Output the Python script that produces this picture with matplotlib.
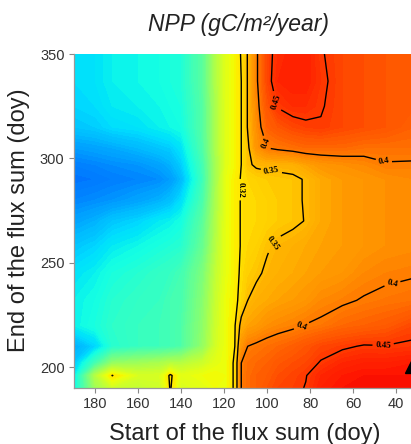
import numpy as np
import matplotlib
matplotlib.use("Agg")
import matplotlib.pyplot as plt

# start of the flux sum (doy), listed left to right as drawn (axis runs backwards)
start_doy = [190, 180, 172, 160, 150, 145, 140, 130, 124, 119, 115, 112, 109,
             105, 100, 95, 88, 82, 75, 65, 55, 45, 31]
# end of the flux sum (doy), bottom to top
end_doy = [190, 196, 202, 210, 220, 232, 245, 258, 270, 280, 290, 297, 305, 315, 325, 337, 350]

# NPP (gC/m2/year), one row per end doy
npp = [
    [.100, .230, .270, .260, .270, .323, .280, .290, .300, .300, .325, .400, .412, .420, .430, .440, .445, .451, .470, .480, .485, .485, .485],
    [.090, .250, .321, .280, .280, .326, .290, .300, .305, .300, .325, .400, .412, .420, .425, .435, .442, .449, .465, .475, .480, .480, .480],
    [.070, .150, .220, .230, .240, .250, .250, .270, .290, .300, .325, .400, .410, .415, .420, .428, .435, .440, .452, .465, .470, .470, .475],
    [.050, .080, .125, .140, .145, .150, .160, .220, .275, .300, .320, .380, .400, .405, .410, .415, .422, .430, .440, .446, .452, .451, .455],
    [.100, .115, .130, .140, .145, .150, .160, .215, .270, .300, .318, .360, .370, .375, .385, .390, .395, .401, .405, .415, .420, .425, .440],
    [.100, .110, .125, .135, .140, .150, .155, .210, .265, .300, .312, .330, .350, .360, .365, .370, .375, .380, .390, .396, .402, .406, .410],
    [.090, .100, .115, .125, .135, .140, .150, .200, .260, .295, .310, .325, .338, .345, .355, .360, .365, .370, .375, .380, .390, .395, .398],
    [.070, .080, .095, .105, .115, .120, .125, .180, .250, .295, .310, .322, .330, .335, .347, .355, .360, .365, .370, .375, .380, .385, .388],
    [.045, .055, .070, .080, .095, .100, .110, .170, .245, .295, .310, .322, .330, .330, .335, .340, .345, .351, .365, .375, .380, .385, .390],
    [.025, .030, .035, .045, .055, .065, .085, .155, .240, .295, .310, .322, .330, .330, .335, .340, .345, .352, .365, .375, .380, .385, .390],
    [.012, .015, .020, .025, .030, .040, .060, .145, .235, .295, .310, .322, .330, .335, .340, .342, .345, .352, .365, .375, .380, .385, .390],
    [.020, .025, .030, .035, .045, .055, .075, .150, .235, .290, .305, .320, .345, .355, .357, .358, .360, .370, .380, .385, .390, .398, .397],
    [.040, .045, .050, .060, .070, .075, .090, .160, .240, .290, .305, .320, .345, .380, .400, .405, .410, .415, .415, .415, .410, .410, .410],
    [.070, .075, .085, .090, .100, .105, .110, .165, .240, .290, .305, .320, .352, .385, .420, .430, .440, .445, .448, .440, .435, .430, .420],
    [.080, .085, .095, .100, .105, .110, .115, .165, .240, .290, .305, .320, .352, .390, .430, .452, .460, .460, .452, .440, .435, .430, .425],
    [.085, .090, .100, .105, .110, .115, .120, .170, .245, .290, .305, .320, .352, .395, .440, .465, .470, .470, .455, .440, .435, .430, .425],
    [.085, .090, .100, .105, .110, .115, .120, .170, .245, .290, .305, .322, .352, .395, .440, .460, .470, .470, .452, .440, .435, .430, .425],
]

contour_levels = [0.32, 0.35, 0.4, 0.45]
contour_fmt = {0.32: "0.32", 0.35: "0.35", 0.4: "0.4", 0.45: "0.45"}

# maximum marker sitting on the right border
peak_start = [33]
peak_end = [200]

X, Y = np.meshgrid(start_doy, end_doy)
Z = np.array(npp)

plt.rcParams["font.family"] = ["Liberation Sans", "DejaVu Sans"]

fig = plt.figure(figsize=(4.11, 4.44), dpi=100)
W, H = 411.0, 444.0
ax = fig.add_axes([73.5 / W, (H - 388) / H, 342 / W, (388 - 54) / H])

fill_levels = np.linspace(-0.16, 0.56, 145)
ax.contourf(X, Y, Z, levels=fill_levels, cmap="jet", vmin=-0.16, vmax=0.56,
            antialiased=False)
cs = ax.contour(X, Y, Z, levels=contour_levels, colors="black", linewidths=1.0)

label_pos = [(97, 327), (102.5, 306.5), (46, 297.5), (98, 294), (112.6, 285),
             (97.7, 259.7), (83.7, 219), (42, 241), (46, 210.5)]
lbls = ax.clabel(cs, fmt=contour_fmt, manual=label_pos, inline=True, inline_spacing=2,
                 fontsize=6.5)
for t in lbls:
    t.set_family("Liberation Serif")
    t.set_fontweight("bold")

ax.plot(peak_start, peak_end, "^", color="black", ms=9, clip_on=True)

ax.set_xlim(190, 31)
ax.set_ylim(190, 350)
ax.set_xticks([180, 160, 140, 120, 100, 80, 60, 40])
ax.set_yticks([200, 250, 300, 350])
ax.tick_params(colors="#888888", labelcolor="#333333", labelsize=10.5,
               length=3.5, width=0.8, pad=3)
for s in ["top", "right"]:
    ax.spines[s].set_visible(False)
for s in ["left", "bottom"]:
    ax.spines[s].set_color("#999999")
    ax.spines[s].set_linewidth(0.9)

fig.text(238 / W, 1 - 31.5 / H, "NPP (gC/m²/year)", ha="center", va="baseline",
         fontsize=16.5, style="italic", color="#222222")
fig.text(245 / W, 1 - 440 / H, "Start of the flux sum (doy)", ha="center",
         va="baseline", fontsize=17, color="#222222")
fig.text(19 / W, 1 - 220 / H, "End of the flux sum (doy)", ha="center",
         va="center", rotation=90, fontsize=17, color="#222222")

fig.savefig("out.png", dpi=100)
